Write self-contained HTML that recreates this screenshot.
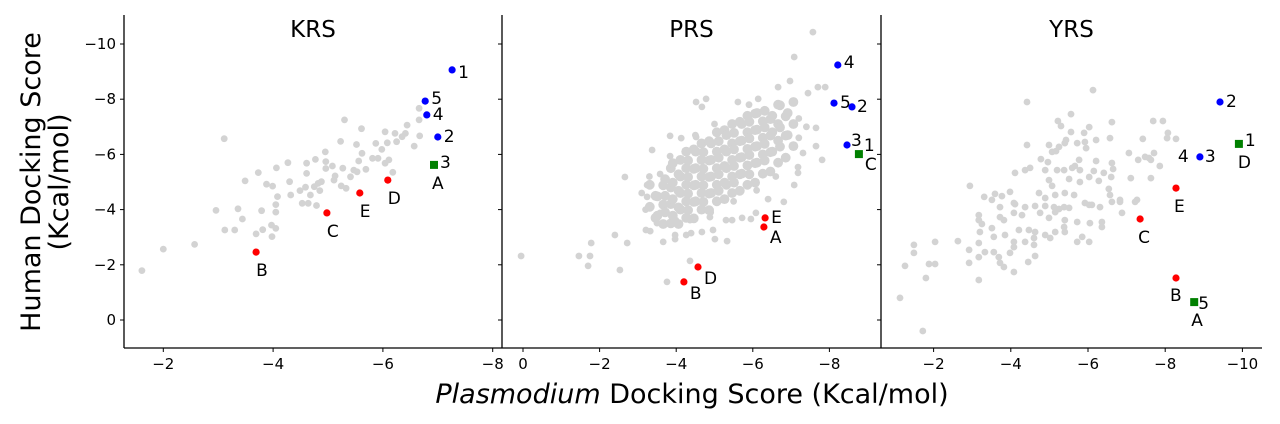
<!DOCTYPE html>
<html><head><meta charset="utf-8"><style>
html,body{margin:0;padding:0;background:#fff;}
svg{display:block;font-family:"DejaVu Sans","Liberation Sans",sans-serif;}
</style></head><body>
<svg id="chart" width="1280" height="424" viewBox="0 0 1280 424" xmlns="http://www.w3.org/2000/svg">
<g id="gray-layer"></g>
<g id="color-layer"></g>
<g id="axes-layer"></g>
<text transform="translate(40,182) rotate(-90)" text-anchor="middle" font-size="27">Human Docking Score</text>
<text transform="translate(68,182) rotate(-90)" text-anchor="middle" font-size="27">(Kcal/mol)</text>
<text x="692" y="403" text-anchor="middle" font-size="27"><tspan font-style="italic">Plasmodium</tspan> Docking Score (Kcal/mol)</text>
</svg>
<script>
// ---------- data ----------
const panelNames = ["KRS", "PRS", "YRS"];
const yTicks = [0, -2, -4, -6, -8, -10];
const xTicksKRS = [-2, -4, -6, -8];
const xTicksPRS = [0, -2, -4, -6, -8];
const xTicksYRS = [-2, -4, -6, -8, -10];

const krsGray = [[-1.61,-1.79],[-2.00,-2.57],[-2.57,-2.74],[-3.11,-6.57],[-2.96,-3.97],[-3.36,-4.03],[-3.12,-3.26],[-3.30,-3.26],[-3.44,-3.66],[-3.49,-5.04],[-3.73,-5.34],[-3.79,-3.96],[-3.69,-3.12],[-3.81,-3.27],[-3.98,-3.02],[-3.97,-3.44],[-4.05,-3.32],[-4.05,-3.91],[-4.05,-4.18],[-4.08,-4.47],[-3.88,-4.92],[-3.99,-4.85],[-4.06,-5.51],[-4.27,-5.70],[-4.32,-4.53],[-4.30,-5.01],[-4.49,-4.69],[-4.53,-4.23],[-4.64,-4.23],[-4.79,-4.15],[-4.68,-4.53],[-4.61,-5.68],[-4.61,-5.31],[-4.59,-4.81],[-4.75,-4.83],[-4.77,-5.82],[-4.82,-4.95],[-4.85,-4.69],[-4.88,-5.01],[-4.96,-5.74],[-4.96,-5.49],[-4.95,-6.09],[-5.08,-5.58],[-5.11,-5.07],[-5.13,-5.22],[-5.24,-4.86],[-5.23,-6.47],[-5.30,-7.25],[-5.27,-5.50],[-5.33,-4.77],[-5.41,-5.19],[-5.47,-5.43],[-5.52,-6.36],[-5.53,-5.37],[-5.56,-5.76],[-5.61,-6.93],[-5.62,-6.04],[-5.69,-5.46],[-5.81,-5.86],[-5.87,-6.40],[-5.91,-5.86],[-5.98,-6.18],[-6.04,-6.82],[-6.04,-5.68],[-6.08,-6.42],[-6.11,-5.80],[-6.18,-5.35],[-6.22,-6.76],[-6.25,-6.46],[-6.35,-6.64],[-6.41,-6.76],[-6.44,-7.06],[-6.57,-6.30],[-6.66,-7.25],[-6.67,-6.67],[-6.66,-7.67]];
const krsHiX = [-7.26,-6.77,-6.80,-7.00,-6.93,-6.09,-5.58,-4.98,-3.69];
const krsHiY = [-9.06,-7.93,-7.43,-6.63,-5.62,-5.07,-4.60,-3.88,-2.46];
const krsHiLabel = ["1","5","4","2","3 A","D","E","C","B"];
const krsHiKind = ["blue","blue","blue","blue","green","red","red","red","red"];

const prsGray = [[-7.57,-10.43],[-7.08,-9.53],[-6.97,-8.66],[-6.66,-8.44],[-7.70,-8.44],[-7.89,-8.44],[-7.44,-8.22],[-4.52,-7.90],[-4.78,-8.01],[-4.67,-7.72],[-5.61,-7.90],[-6.14,-8.01],[-3.37,-6.16],[-2.66,-5.18],[-3.24,-4.89],[-3.84,-6.67],[-4.13,-6.59],[-4.52,-6.63],[-7.81,-5.80],[-7.65,-6.96],[-7.65,-6.30],[-7.31,-6.05],[-7.18,-5.54],[-3.58,-5.29],[-3.84,-5.94],[-3.24,-4.46],[-3.58,-3.88],[-3.50,-3.51],[-3.21,-3.26],[-3.32,-3.22],[-2.40,-3.08],[-2.72,-2.79],[-1.78,-2.79],[0.05,-2.32],[-1.46,-2.32],[-1.75,-2.32],[-1.70,-1.96],[-2.53,-1.81],[-3.66,-2.83],[-3.97,-2.93],[-3.97,-3.08],[-4.26,-3.08],[-4.39,-3.15],[-4.67,-3.19],[-5.01,-2.93],[-5.33,-2.86],[-4.96,-3.26],[-4.36,-2.14],[-3.76,-1.38],[-5.95,-3.66],[-5.72,-3.70],[-5.46,-3.62],[-5.30,-3.62],[-6.81,-4.28],[-7.08,-4.89],[-7.18,-5.33],[-6.40,-4.38],[-6.08,-3.88],[-3.99,-3.62],[-4.36,-3.62],[-4.88,-3.73],[-7.2,-6.6],[-7.2,-7.3],[-7.4,-7.0],[-3.2,-4.0],[-3.1,-4.6],[-3.3,-5.2],[-4.9,-3.9],[-5.5,-4.3],[-6.1,-4.7],[-6.6,-5.2],[-5.0,-7.1],[-4.5,-6.7],[-5.9,-7.8]];
const prsCoreX = [-3.4,-3.6,-3.8,-4.0,-4.2,-4.4,-4.6,-4.8,-5.0,-5.2,-5.4,-5.6,-5.8,-6.0,-6.2,-6.4,-6.6,-6.8,-7.0];
const prsCoreY = [
 [-3.7,-4.1,-4.5,-4.9],
 [-3.6,-3.9,-4.3,-4.6,-5.0],
 [-3.5,-3.9,-4.2,-4.5,-4.8,-5.1,-5.5],
 [-3.6,-3.9,-4.2,-4.5,-4.8,-5.1,-5.4,-5.8],
 [-3.7,-4.0,-4.3,-4.6,-4.9,-5.2,-5.5,-5.8,-6.1],
 [-3.8,-4.1,-4.4,-4.7,-5.0,-5.3,-5.6,-5.9,-6.3],
 [-4.0,-4.3,-4.6,-4.9,-5.2,-5.5,-5.8,-6.1,-6.4],
 [-4.1,-4.4,-4.7,-5.0,-5.3,-5.6,-5.9,-6.2,-6.6],
 [-4.3,-4.6,-4.9,-5.2,-5.5,-5.8,-6.1,-6.4,-6.8],
 [-4.5,-4.8,-5.1,-5.4,-5.7,-6.0,-6.3,-6.6,-7.0],
 [-4.6,-4.9,-5.2,-5.5,-5.8,-6.1,-6.4,-6.7,-7.1],
 [-4.8,-5.1,-5.4,-5.7,-6.0,-6.3,-6.6,-6.9,-7.3],
 [-4.9,-5.3,-5.6,-5.9,-6.2,-6.5,-6.8,-7.1,-7.4],
 [-5.1,-5.4,-5.8,-6.1,-6.4,-6.7,-7.0,-7.3,-7.6],
 [-5.3,-5.7,-6.0,-6.3,-6.6,-6.9,-7.2,-7.5],
 [-5.5,-5.9,-6.2,-6.5,-6.8,-7.1,-7.4,-7.7],
 [-5.7,-6.1,-6.5,-6.8,-7.1,-7.4,-7.8],
 [-6.0,-6.4,-6.8,-7.1,-7.5,-7.9],
 [-6.3,-6.7,-7.1,-7.5,-7.9]
];
const prsHiX = [-8.22,-8.12,-8.59,-8.46,-8.77,-6.32,-6.29,-4.57,-4.20];
const prsHiY = [-9.24,-7.86,-7.72,-6.34,-6.01,-3.70,-3.37,-1.92,-1.38];
const prsHiLabel = ["4","5","2","3","1 C","E","A","D","B"];
const prsHiKind = ["blue","blue","blue","blue","green","red","red","red","red"];

const yrsGray = [[-6.13,-8.33],[-4.42,-7.90],[-5.56,-7.46],[-5.22,-7.21],[-5.30,-7.03],[-6.62,-7.17],[-7.69,-7.21],[-7.94,-7.21],[-6.03,-6.99],[-5.90,-6.78],[-5.56,-6.81],[-8.07,-6.78],[-8.05,-6.59],[-8.28,-6.56],[-5.43,-6.52],[-5.40,-6.41],[-5.72,-6.41],[-5.92,-6.45],[-6.21,-6.52],[-6.57,-6.59],[-7.42,-6.56],[-4.42,-6.34],[-4.99,-6.34],[-5.25,-6.27],[-5.07,-6.09],[-5.17,-6.12],[-5.95,-6.23],[-7.06,-6.05],[-7.71,-6.05],[-7.58,-5.87],[-7.48,-5.91],[-7.30,-5.80],[-7.86,-5.58],[-7.63,-5.80],[-4.78,-5.83],[-4.96,-5.72],[-5.77,-5.80],[-5.66,-5.58],[-5.59,-5.51],[-6.21,-5.76],[-6.62,-5.69],[-6.65,-5.47],[-6.41,-5.33],[-6.60,-5.18],[-4.11,-5.33],[-4.37,-5.43],[-4.50,-5.51],[-4.89,-5.43],[-5.20,-5.43],[-5.38,-5.43],[-5.79,-5.43],[-6.15,-5.40],[-4.99,-5.07],[-5.07,-4.86],[-5.51,-5.11],[-5.79,-5.00],[-6.03,-5.18],[-6.28,-5.04],[-7.11,-5.14],[-7.63,-5.14],[-2.94,-4.86],[-3.31,-4.46],[-3.59,-4.57],[-3.77,-4.49],[-3.98,-4.64],[-4.73,-4.60],[-4.89,-4.42],[-5.15,-4.53],[-5.40,-4.60],[-5.64,-4.53],[-6.54,-4.75],[-6.57,-4.53],[-6.83,-4.35],[-7.27,-4.35],[-5.92,-4.24],[-6.10,-4.17],[-6.31,-4.09],[-3.72,-4.09],[-4.11,-4.20],[-4.37,-4.09],[-4.63,-4.13],[-5.12,-4.09],[-5.38,-4.09],[-3.51,-4.35],[-4.08,-4.24],[-4.89,-4.13],[-5.25,-4.02],[-5.51,-4.06],[-6.03,-4.17],[-6.62,-4.28],[-6.83,-4.28],[-7.22,-4.28],[-3.17,-3.80],[-3.17,-3.62],[-3.25,-3.48],[-3.72,-3.73],[-3.82,-3.62],[-4.08,-3.88],[-4.29,-3.80],[-4.76,-3.88],[-5.15,-3.91],[-4.99,-3.70],[-5.40,-3.62],[-5.38,-3.37],[-5.72,-3.55],[-6.05,-3.51],[-6.36,-3.55],[-6.36,-3.37],[-6.88,-3.88],[-3.51,-3.33],[-3.20,-3.19],[-3.85,-3.08],[-3.56,-3.01],[-4.21,-3.26],[-4.47,-3.26],[-4.63,-3.19],[-4.89,-3.08],[-5.15,-3.19],[-5.40,-3.19],[-4.60,-2.97],[-4.37,-2.83],[-4.08,-2.83],[-4.08,-2.64],[-5.72,-2.83],[-5.85,-3.01],[-6.03,-2.83],[-5.02,-2.97],[-4.60,-2.72],[-3.98,-2.43],[-3.56,-2.46],[-3.33,-2.46],[-3.17,-2.79],[-2.92,-2.54],[-2.92,-2.07],[-3.17,-2.28],[-3.69,-2.28],[-3.82,-1.92],[-3.72,-2.07],[-4.08,-1.74],[-4.45,-2.10],[-4.63,-2.32],[-2.63,-2.86],[-2.04,-2.83],[-1.49,-2.72],[-1.49,-2.43],[-1.26,-1.96],[-1.88,-2.03],[-2.04,-2.03],[-1.80,-1.52],[-3.17,-1.45],[-1.13,-0.80],[-1.72,0.40]];
const yrsHiX = [-9.42,-9.91,-8.90,-8.28,-7.35,-8.28,-8.75];
const yrsHiY = [-7.90,-6.38,-5.91,-4.78,-3.66,-1.52,-0.65];
const yrsHiLabel = ["2","1 D","4 3","E","C","B","5 A"];
const yrsHiKind = ["blue","green","blue","red","red","red","green"];

// ---------- layout ----------
const NS = "http://www.w3.org/2000/svg";
const TOP = 15, BOT = 348;
const yScale = v => 320 + v * 27.6;
const panels = [
  {name: panelNames[0], left:124, right:502, x0:163.3, v0:-2, k:54.9, ticks:xTicksKRS, gray:krsGray, hx:krsHiX, hy:krsHiY, hl:krsHiLabel, hk:krsHiKind},
  {name: panelNames[1], left:502, right:881, x0:523, v0:0, k:38.3, ticks:xTicksPRS, gray:prsGray, hx:prsHiX, hy:prsHiY, hl:prsHiLabel, hk:prsHiKind},
  {name: panelNames[2], left:881, right:1262, x0:933.6, v0:-2, k:38.6, ticks:xTicksYRS, gray:yrsGray, hx:yrsHiX, hy:yrsHiY, hl:yrsHiLabel, hk:yrsHiKind}
];
panels.forEach(p => { p.xs = v => p.x0 + (p.v0 - v) * p.k; });

function mk(tag, attrs, parent){ const e=document.createElementNS(NS,tag); for(const a in attrs) e.setAttribute(a,attrs[a]); parent.appendChild(e); return e; }
const gray = document.getElementById("gray-layer");
const col = document.getElementById("color-layer");
const ax = document.getElementById("axes-layer");
const colors = {blue:"#0000ff", red:"#ff0000", green:"#008000"};

const offs = [
  [[[6,3]],[[6,-2]],[[6,0]],[[6,0]],[[6,-2],[-2,19]],[[0,19]],[[0,19]],[[0,19]],[[0,19]]],
  [[[6,-2]],[[6,0]],[[5,0]],[[4,-4]],[[5,-8],[6,11]],[[6,0]],[[6,11]],[[6,12]],[[6,12]]],
  [[[6,0]],[[6,-3],[-1,19]],[[-22,0],[5,0]],[[-2,19]],[[-2,19]],[[-6,18]],[[4,2],[-3,19]]]
];

panels.forEach((p, pi) => {
  const xs = p.xs;
  p.gray.forEach(d => {
    const c = mk("circle", {cx:xs(d[0]).toFixed(1), cy:yScale(d[1]).toFixed(1), r:3.4, fill:"#d3d3d3"}, gray);
    
    
  });
  if (pi === 1) {
    prsCoreX.forEach((xv, i) => {
      prsCoreY[i].forEach((yv, j) => {
        const jx = (j % 2 ? 0.09 : -0.06);
        const jy = (i % 2 ? 0.12 : 0);
        const c = mk("circle", {cx:xs(xv + jx).toFixed(1), cy:yScale(yv + jy).toFixed(1), r:4.9, fill:"#d3d3d3"}, gray);
        
        
      });
    });
  }
  p.hx.forEach((xv, i) => {
    const cx = xs(xv), cy = yScale(p.hy[i]);
    const kind = p.hk[i];
    let m;
    if (kind === "green") {
      m = mk("rect", {x:(cx-4).toFixed(1), y:(cy-4).toFixed(1), width:8, height:8, fill:colors.green}, col);
      
    } else {
      m = mk("circle", {cx:cx.toFixed(1), cy:cy.toFixed(1), r:3.6, fill:colors[kind]}, col);
      
    }
    
    const parts = p.hl[i].split(" ");
    parts.forEach((t, k) => {
      const o = offs[pi][i][k] || [6,0];
      const tx = mk("text", {x:(cx+o[0]).toFixed(1), y:(cy+o[1]+5).toFixed(1), "font-size":17, fill:"#000"}, col);
      tx.textContent = t;
      
      
    });
  });
  const sl = mk("line", {x1:p.left, y1:TOP, x2:p.left, y2:BOT, stroke:"#000", "stroke-width":1.3}, ax);
  
  
  const sb = mk("line", {x1:p.left, y1:BOT, x2:p.right, y2:BOT, stroke:"#000", "stroke-width":1.3}, ax);
  
  
  yTicks.forEach(v => {
    const y = yScale(v);
    const t = mk("line", {x1:p.left-4, y1:y, x2:p.left, y2:y, stroke:"#000", "stroke-width":1}, ax);
    
    
    if (pi === 0) {
      const lb = mk("text", {x:p.left-8, y:y+5, "text-anchor":"end", "font-size":15}, ax);
      lb.textContent = v === 0 ? "0" : "\u2212" + Math.abs(v);
      
      
    }
  });
  p.ticks.forEach(v => {
    const x = xs(v);
    const t = mk("line", {x1:x, y1:BOT, x2:x, y2:BOT+4, stroke:"#000", "stroke-width":1}, ax);
    
    
    const lb = mk("text", {x:x, y:BOT+21, "text-anchor":"middle", "font-size":15}, ax);
    lb.textContent = v === 0 ? "0" : "\u2212" + Math.abs(v);
    
    
  });
  const tt = mk("text", {x:(p.left+p.right)/2, y:37, "text-anchor":"middle", "font-size":23}, ax);
  tt.textContent = p.name;
  
  
});
</script>
</body></html>
